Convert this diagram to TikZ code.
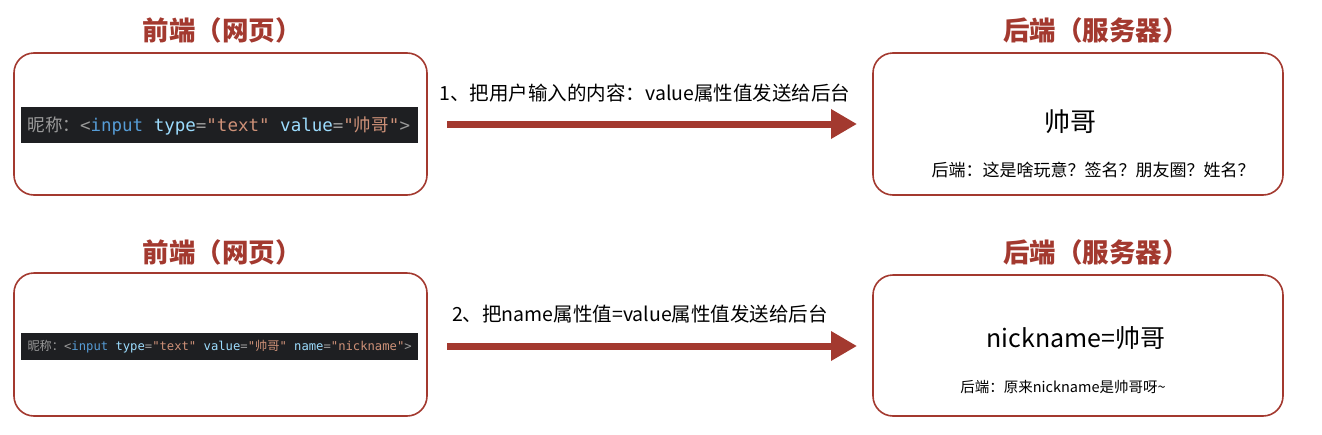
\documentclass[tikz,border=0pt]{standalone}
\usepackage{fontspec}
\setmainfont{Noto Sans CJK SC}
\newfontfamily\cjk{Noto Sans CJK SC}
\newfontfamily\cmono{DejaVu Sans Mono}
\usetikzlibrary{arrows.meta}
\definecolor{rd}{HTML}{A3392F}
\definecolor{codebg}{HTML}{1E1F22}
\definecolor{cg}{HTML}{9A9A9A}
\definecolor{cb}{HTML}{569CD6}
\definecolor{ca}{HTML}{9CDCFE}
\definecolor{cs}{HTML}{CE9178}
\tikzset{
  box/.style={draw=rd,line width=1.6pt,rounded corners=20pt},
  ttl/.style={text=rd,font=\fontsize{26.5}{26.5}\selectfont\bfseries},
  arr/.style={draw=rd,line width=7pt,-{Triangle[length=26pt,width=28pt]}},
  lbl/.style={font=\fontsize{19.5}{19.5}\selectfont},
  code/.style={fill=codebg,inner sep=0pt,text=cg}
}
\begin{document}
\begin{tikzpicture}[x=1pt,y=-1pt]
\useasboundingbox (0,0) rectangle (1322,434);
\fill[white] (0,0) rectangle (1322,434);
% top
\node[ttl] (t1) at (222,30) {前端（网页）};
\node[ttl] (t2) at (1096,30) {后端（服务器）};
\draw[box] (14,53) rectangle (427,195);
\draw[box] (873,53) rectangle (1283,195);
\node[code,minimum width=397pt,minimum height=36pt] (c1) at (219.5,125) {};
\node[font=\cmono\fontsize{17.5}{17}\selectfont,anchor=west] (c1t) at (24,126) {\textcolor{cg}{\cjk 昵称：}\textcolor{cg}{<}\textcolor{cb}{input} \textcolor{ca}{type}\textcolor{cg}{=}\textcolor{cs}{"text"} \textcolor{ca}{value}\textcolor{cg}{=}\textcolor{cs}{"{\cjk 帅哥}"}\textcolor{cg}{>}};
\coordinate (a1s) at (447,124);
\coordinate (a1e) at (857,124);
\draw[arr] (a1s) -- (a1e);
\node[lbl] (l1) at (645,93) {1、把用户输入的内容：value属性值发送给后台};
\node[font=\fontsize{26}{26}\selectfont] (r1) at (1070,122) {帅哥};
\node[font=\fontsize{17}{17}\selectfont] (r1b) at (1093,170) {后端：这是啥玩意？签名？朋友圈？姓名？};
% bottom
\node[ttl] (t3) at (222,252) {前端（网页）};
\node[ttl] (t4) at (1096,252) {后端（服务器）};
\draw[box] (14,273) rectangle (427,416);
\draw[box] (873,275) rectangle (1283,416);
\node[code,minimum width=397pt,minimum height=27pt] (c2) at (219.5,346) {};
\node[font=\cmono\fontsize{12.2}{12}\selectfont,anchor=west] (c2t) at (24,346.5) {\textcolor{cg}{\cjk 昵称：}\textcolor{cg}{<}\textcolor{cb}{input} \textcolor{ca}{type}\textcolor{cg}{=}\textcolor{cs}{"text"} \textcolor{ca}{value}\textcolor{cg}{=}\textcolor{cs}{"{\cjk 帅哥}"} \textcolor{ca}{name}\textcolor{cg}{=}\textcolor{cs}{"nickname"}\textcolor{cg}{>}};
\coordinate (a2s) at (447,346);
\coordinate (a2e) at (857,346);
\draw[arr] (a2s) -- (a2e);
\node[lbl] (l2) at (640,314) {2、把name属性值=value属性值发送给后台};
\node[font=\fontsize{25}{25}\selectfont] (r2) at (1076,338) {nickname=帅哥};
\node[font=\fontsize{14.5}{14.5}\selectfont] (r2b) at (1063,387) {后端：原来nickname是帅哥呀\textasciitilde};
\end{tikzpicture}
\end{document}
